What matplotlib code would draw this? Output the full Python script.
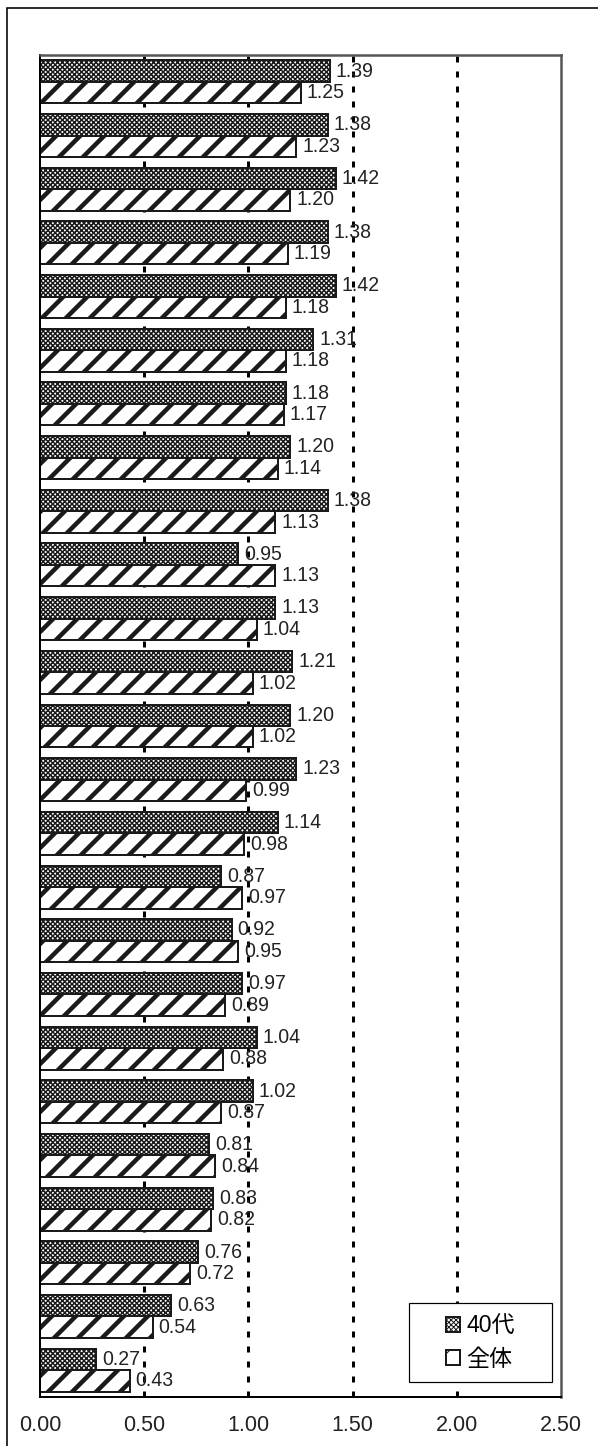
import matplotlib.pyplot as plt
import numpy as np
from matplotlib.patches import Rectangle
from matplotlib.transforms import ScaledTranslation

plt.rcParams['font.family'] = ['Liberation Sans', 'Noto Sans CJK JP', 'DejaVu Sans']

# values per item, top to bottom
series_names = ['40代', '全体']
vals_40s = [1.39, 1.38, 1.42, 1.38, 1.42, 1.31, 1.18, 1.20, 1.38, 0.95,
            1.13, 1.21, 1.20, 1.23, 1.14, 0.87, 0.92, 0.97, 1.04, 1.02,
            0.81, 0.83, 0.76, 0.63, 0.27]
vals_all = [1.25, 1.23, 1.20, 1.19, 1.18, 1.18, 1.17, 1.14, 1.13, 1.13,
            1.04, 1.02, 1.02, 0.99, 0.98, 0.97, 0.95, 0.89, 0.88, 0.87,
            0.84, 0.82, 0.72, 0.54, 0.43]
xticks = [0.0, 0.5, 1.0, 1.5, 2.0, 2.5]

W, H, DPI = 598, 1446, 72
fig = plt.figure(figsize=(W / DPI, H / DPI), dpi=DPI)
fig.patch.set_facecolor('white')

# outer frame (runs off the right and bottom edges)
fig.add_artist(Rectangle((7 / W, -0.01), 1.0, (H - 8) / H + 0.01,
                         transform=fig.transFigure, fill=False,
                         edgecolor='black', linewidth=1.6))

ax = fig.add_axes([40 / W, (H - 1397) / H, 521 / W, (1397 - 55) / H])

y = np.arange(len(vals_40s))
h = 0.4

with plt.rc_context({'hatch.linewidth': 1.5}):
    b1 = ax.barh(y - h / 2, vals_40s, height=h, color='white',
                 edgecolor='#1a1a1a', hatch='xxxxx', linewidth=2,
                 label=series_names[0], zorder=2)
with plt.rc_context({'hatch.linewidth': 4.5}):
    b2 = ax.barh(y + h / 2, vals_all, height=h, color='white',
                 edgecolor='#1a1a1a', hatch='/', linewidth=2,
                 label=series_names[1], zorder=2)

# value labels at the bar ends
for yy, v in zip(y, vals_40s):
    ax.annotate(f'{v:.2f}', (v, yy - h / 2), xytext=(6, 0),
                textcoords='offset points', va='center', ha='left',
                fontsize=19.5, color='#222222', zorder=4)
for yy, v in zip(y, vals_all):
    ax.annotate(f'{v:.2f}', (v, yy + h / 2), xytext=(6, 0),
                textcoords='offset points', va='center', ha='left',
                fontsize=19.5, color='#222222', zorder=4)

# dashed gridlines
for gx in xticks[1:-1]:
    ax.axvline(gx, color='black', linewidth=3, linestyle=(0, (2, 3)),
               zorder=1)

ax.set_xlim(0, 2.5)
ax.set_ylim(len(vals_40s) - 0.5, -0.5)
ax.set_xticks(xticks)
ax.set_xticklabels([f'{t:.2f}' for t in xticks], fontsize=21.5, color='#222222')
shift = ScaledTranslation(-7 / DPI, 0, fig.dpi_scale_trans)
for lbl in ax.get_xticklabels():
    lbl.set_transform(lbl.get_transform() + shift)
ax.tick_params(axis='x', length=0, pad=18)
ax.set_yticks([])

for side in ['left', 'bottom']:
    ax.spines[side].set_color('black')
    ax.spines[side].set_linewidth(2)
for side in ['top', 'right']:
    ax.spines[side].set_color('#555555')
    ax.spines[side].set_linewidth(2.5)

# legend box with the entries centred inside it
box_x0, box_x1 = (409 - 40) / 521, (552 - 40) / 521
box_y0, box_y1 = (1397 - 1382) / 1342, (1397 - 1303) / 1342
ax.add_patch(Rectangle((box_x0, box_y0), box_x1 - box_x0, box_y1 - box_y0,
                       transform=ax.transAxes, facecolor='white',
                       edgecolor='black', linewidth=1.2, zorder=5))
leg = ax.legend(loc='center', bbox_to_anchor=((box_x0 + box_x1) / 2,
                                              (box_y0 + box_y1) / 2),
                fontsize=23, frameon=False, handlelength=0.6,
                handleheight=0.6, handletextpad=0.3, labelspacing=0.45,
                borderpad=0)
leg.set_zorder(6)

fig.savefig('out.png', dpi=DPI)
